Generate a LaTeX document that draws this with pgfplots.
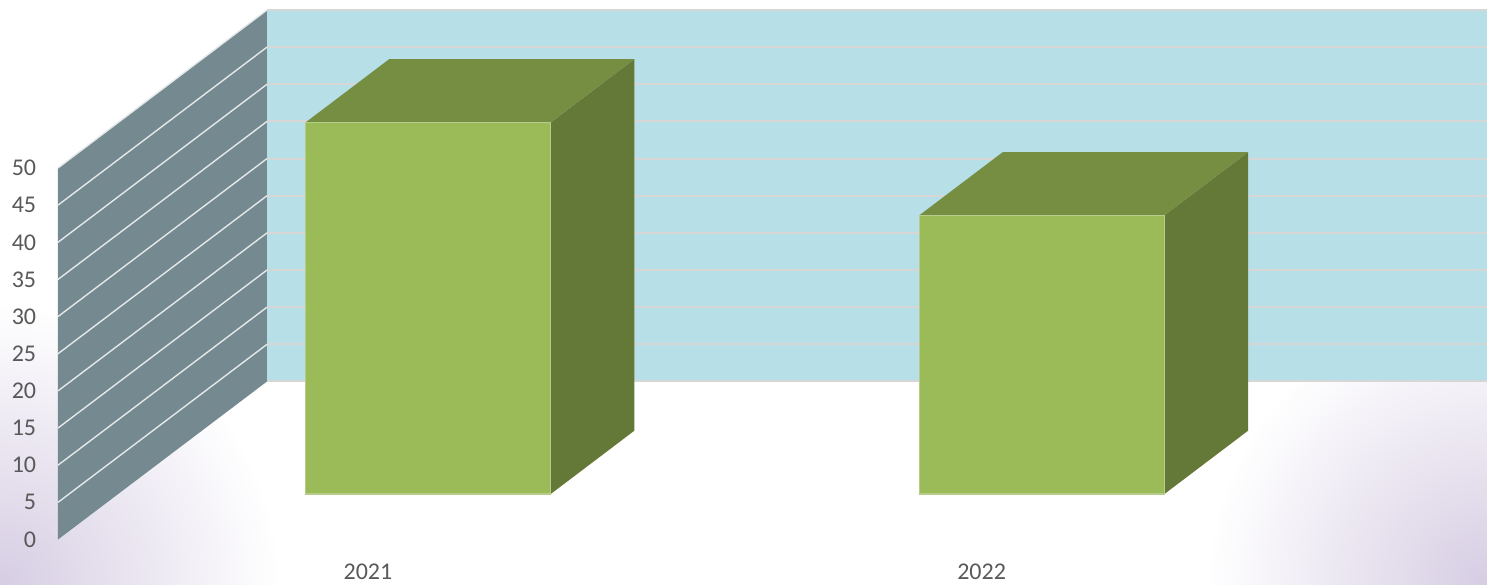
\documentclass[border=0pt]{standalone}
\usepackage{pgfplots}
\usepackage{pgfplotstable}
\pgfplotsset{compat=1.18}
\usepackage{fontspec}
\setmainfont{Carlito}

\definecolor{sidewall}{RGB}{116,138,144}
\definecolor{backwall}{RGB}{183,223,232}
\definecolor{gridback}{RGB}{214,214,214}
\definecolor{gridside}{RGB}{228,232,233}
\definecolor{barfront}{RGB}{155,187,89}
\definecolor{baredge}{RGB}{182,204,138}
\definecolor{bartop}{RGB}{118,142,66}
\definecolor{barside}{RGB}{100,120,55}
\definecolor{tickgray}{RGB}{89,89,89}
\definecolor{lav}{RGB}{214,205,227}

% 1 px of the reference = 0.5pt
\pgfplotstableread{
year value
2021 50
2022 37.5
}\bardata

\begin{document}
\begin{tikzpicture}
% corner glows of the slide background
\begin{scope}
    \clip (0,0) rectangle (743.5pt,292pt);
    \shade[inner color=lav, outer color=white] (0,0) circle[radius=140pt];
    \shade[inner color=lav, outer color=white] (743.5pt,0) circle[radius=140pt];
\end{scope}
\begin{axis}[
    at={(0,0)}, anchor=south west,
    scale only axis,
    width=743.5pt, height=292pt,
    xmin=-0.5995, xmax=1.8235,
    ymin=-5.989, ymax=72.61,
    axis line style={draw=none},
    major tick length=0pt,
    xtick={0,1},
    xticklabels from table={\bardata}{year},
    ytick={0,5,...,50},
    xticklabel style={anchor=center, yshift=6pt},
    yticklabel style={anchor=east, inner sep=0pt, xshift=18.25pt},
    ticklabel style={font=\fontsize{12}{14}\selectfont, text=tickgray},
    /pgf/number format/assume math mode=true,
    clip=true,
]
    % side wall and back wall
    \addplot[fill=sidewall, draw=none] coordinates
        {(-0.505,0) (-0.1644,21.27) (-0.1644,71.27) (-0.505,50)} -- cycle;
    \addplot[fill=backwall, draw=none] coordinates
        {(-0.1644,21.27) (1.9,21.27) (1.9,71.27) (-0.1644,71.27)} -- cycle;

    % grid lines on the walls
    \pgfplotsforeachungrouped \gv in {0,5,...,50}{
        \pgfmathsetmacro\gb{\gv+21.27}
        \edef\drawgrid{%
            \noexpand\addplot[gridback, line width=1pt] coordinates {(-0.1644,\gb) (1.9,\gb)};
        }\drawgrid
    }
    \pgfplotsforeachungrouped \gv in {5,10,...,50}{
        \pgfmathsetmacro\gb{\gv+21.27}
        \edef\drawgrid{%
            \noexpand\addplot[gridside, line width=0.7pt] coordinates {(-0.505,\gv) (-0.1644,\gb)};
        }\drawgrid
    }

    % the bars
    \pgfplotstablegetrowsof{\bardata}
    \pgfmathtruncatemacro\lastrow{\pgfplotsretval-1}
    \pgfplotsforeachungrouped \i in {0,...,\lastrow}{
        \pgfplotstablegetelem{\i}{value}\of\bardata
        \let\barval\pgfplotsretval
        \pgfmathsetmacro\xl{\i+0.0981-0.1998}
        \pgfmathsetmacro\xr{\i+0.0981+0.1998}
        \pgfmathsetmacro\xlb{\xl+0.1362}
        \pgfmathsetmacro\xrb{\xr+0.1362}
        \pgfmathsetmacro\yb{6.124}
        \pgfmathsetmacro\yt{6.124+\barval}
        \pgfmathsetmacro\ybb{14.64}
        \pgfmathsetmacro\ytb{14.64+\barval}
        \edef\drawbar{%
            \noexpand\addplot[fill=barside, draw=none] coordinates
                {(\xr,\yb) (\xrb,\ybb) (\xrb,\ytb) (\xr,\yt)} -- cycle;
            \noexpand\addplot[fill=bartop, draw=none] coordinates
                {(\xl,\yt) (\xr,\yt) (\xrb,\ytb) (\xlb,\ytb)} -- cycle;
            \noexpand\addplot[fill=barfront, draw=baredge, line width=0.6pt] coordinates
                {(\xl,\yb) (\xr,\yb) (\xr,\yt) (\xl,\yt)} -- cycle;
        }\drawbar
    }
\end{axis}
\pgfresetboundingbox
\useasboundingbox (0,0) rectangle (743.5pt,292pt);
\end{tikzpicture}
\end{document}
